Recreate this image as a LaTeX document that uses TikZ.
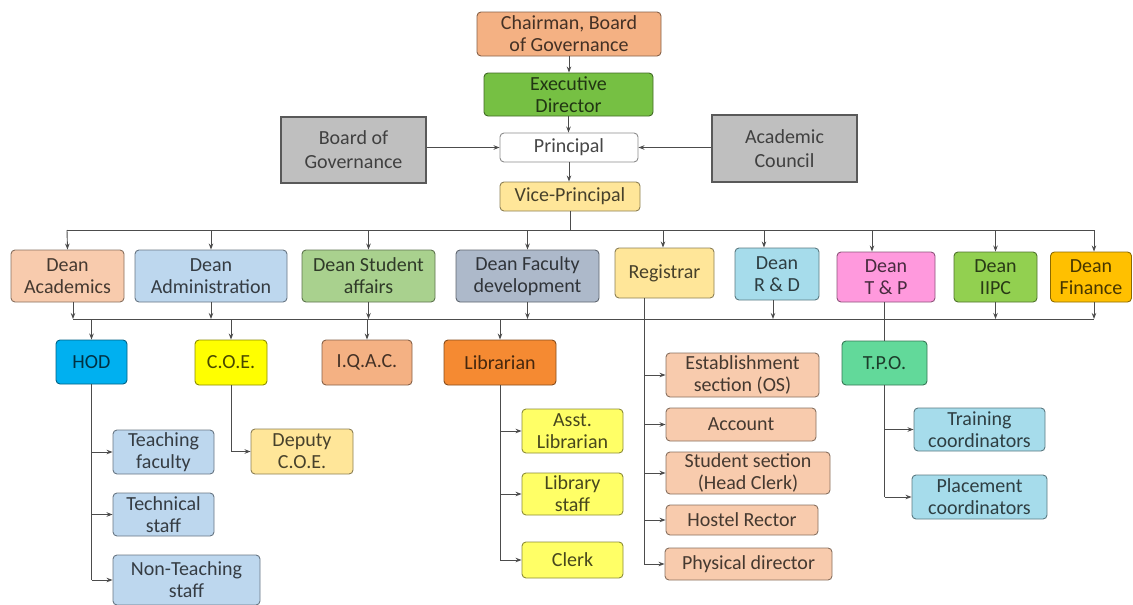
\documentclass[tikz,border=0pt]{standalone}
\usepackage{fontspec}
\setmainfont{Carlito}
\usetikzlibrary{arrows.meta}
\definecolor{cChair}{HTML}{F4B183}
\definecolor{cExec}{HTML}{76C043}
\definecolor{cVP}{HTML}{FFE699}
\definecolor{cGray}{HTML}{BFBFBF}
\definecolor{cAcad}{HTML}{F8CBAD}
\definecolor{cAdm}{HTML}{BDD7EE}
\definecolor{cStu}{HTML}{A9D18E}
\definecolor{cFac}{HTML}{ADB9CA}
\definecolor{cReg}{HTML}{FFE699}
\definecolor{cRD}{HTML}{A6DCEB}
\definecolor{cTP}{HTML}{FF99DD}
\definecolor{cIIPC}{HTML}{92D050}
\definecolor{cFin}{HTML}{FFC000}
\definecolor{cHOD}{HTML}{00B0F0}
\definecolor{cCOE}{HTML}{FFFF00}
\definecolor{cIQAC}{HTML}{F4B183}
\definecolor{cLib}{HTML}{F58A32}
\definecolor{cLibc}{HTML}{FFFF66}
\definecolor{cTPO}{HTML}{62D99A}
\begin{document}
\begin{tikzpicture}[x=1pt,y=-1pt,
  box/.style={draw=#1!55!black, fill=#1, text=#1!28!black, rounded corners=4pt,
    line width=0.9pt, align=center, inner sep=0pt,
    font=\fontsize{20}{22}\selectfont},
  sq/.style={draw=black!65, fill=cGray, line width=1.4pt, align=center, inner sep=0pt,
    text=black!75, font=\fontsize{20}{24}\selectfont},
  conn/.style={draw=black!70, line width=0.9pt},
  arr/.style={conn, -{Stealth[length=6pt,width=4.5pt]}}]
\useasboundingbox (0,0) rectangle (1133,605);
% top
\node[box=cChair, minimum width=184, minimum height=44] (chair) at (569,34) {Chairman, Board\\of Governance};
\node[box=cExec, minimum width=169, minimum height=43] (exec) at (568.5,94.5) {Executive\\Director};
\node[box=white, minimum width=138, minimum height=29] (prin) at (569,147.5) {Principal};
\node[sq, minimum width=145, minimum height=66] (bog) at (353.5,150) {Board of\\Governance};
\node[sq, minimum width=145, minimum height=67] (ac) at (784.5,148.5) {Academic\\Council};
\node[box=cVP, minimum width=140, minimum height=29] (vp) at (570,196.5) {Vice-Principal};
% deans
\node[box=cAcad, minimum width=113, minimum height=52] (dacad) at (67.5,276) {Dean\\Academics};
\node[box=cAdm, minimum width=152, minimum height=52] (dadm) at (211,276) {Dean\\Administration};
\node[box=cStu, minimum width=133, minimum height=52] (dstu) at (368.5,276) {Dean Student\\affairs};
\node[box=cFac, minimum width=143, minimum height=52] (dfac) at (527.5,276) {Dean Faculty\\development};
\node[box=cReg, minimum width=99, minimum height=50] (reg) at (664.5,273) {Registrar};
\node[box=cRD, minimum width=84, minimum height=52] (drd) at (777,274) {Dean\\R \& D};
\node[box=cTP, minimum width=98, minimum height=50] (dtp) at (886,277) {Dean\\T \& P};
\node[box=cIIPC, minimum width=83, minimum height=50] (diipc) at (995.5,277) {Dean\\IIPC};
\node[box=cFin, minimum width=81, minimum height=50] (dfin) at (1091,277) {Dean\\Finance};
% level 3
\node[box=cHOD, minimum width=71, minimum height=44] (hod) at (91.5,362) {HOD};
\node[box=cCOE, minimum width=72, minimum height=45] (coe) at (231,362.5) {C.O.E.};
\node[box=cIQAC, minimum width=90, minimum height=45] (iqac) at (367,362.5) {I.Q.A.C.};
\node[box=cLib, minimum width=112, minimum height=45] (lib) at (500,362.5) {Librarian};
\node[box=cTPO, minimum width=85, minimum height=44] (tpo) at (884.5,363) {T.P.O.};
% HOD children
\node[box=cAdm, minimum width=101, minimum height=44] (tf) at (163.5,452) {Teaching\\faculty};
\node[box=cAdm, minimum width=101, minimum height=43] (ts) at (163.5,514.5) {Technical\\staff};
\node[box=cAdm, minimum width=147, minimum height=50] (nts) at (186.5,580) {Non-Teaching\\staff};
% COE child
\node[box=cVP, minimum width=102, minimum height=45] (dcoe) at (302,451.5) {Deputy\\C.O.E.};
% Librarian children
\node[box=cLibc, minimum width=101, minimum height=44] (alib) at (572.5,431) {Asst.\\Librarian};
\node[box=cLibc, minimum width=101, minimum height=42] (lstf) at (572.5,494) {Library\\staff};
\node[box=cLibc, minimum width=101, minimum height=36] (clerk) at (572.5,560) {Clerk};
% Registrar children
\node[box=cAcad, minimum width=153, minimum height=44] (est) at (742.5,375) {Establishment\\section (OS)};
\node[box=cAcad, minimum width=150, minimum height=33] (acct) at (741,424.5) {Account};
\node[box=cAcad, minimum width=164, minimum height=42] (ssec) at (748,473) {Student section\\(Head Clerk)};
\node[box=cAcad, minimum width=152, minimum height=30] (hostel) at (742,520) {Hostel Rector};
\node[box=cAcad, minimum width=167, minimum height=32] (phys) at (748.5,564) {Physical director};
% TPO children
\node[box=cRD, minimum width=131, minimum height=43] (trn) at (979.5,429.5) {Training\\coordinators};
\node[box=cRD, minimum width=135, minimum height=44] (plc) at (979.5,497) {Placement\\coordinators};
% top connectors
\draw[arr] (chair.south) -- (chair.south |- exec.north);
\draw[arr] (exec.south) -- (exec.south |- prin.north);
\draw[arr] (prin.south) -- (prin.south |- vp.north);
\draw[arr] (bog.east |- prin.west) -- (prin.west);
\draw[arr] (ac.west |- prin.east) -- (prin.east);
% upper bus
\coordinate (bL) at (67,230);
\coordinate (bR) at (1094,230);
\draw[conn] (vp.south) -- (vp.south |- bL);
\draw[conn] (bL) -- (bR);
\coordinate (regT) at ([xshift=-1.5pt]reg.north);
\coordinate (rdT) at ([xshift=-13pt]drd.north);
\coordinate (tpT) at ([xshift=-14pt]dtp.north);
\coordinate (finT) at ([xshift=3pt]dfin.north);
\draw[arr] (bL) -- (dacad.north);
\draw[arr] (dadm.north |- bL) -- (dadm.north);
\draw[arr] (dstu.north |- bL) -- (dstu.north);
\draw[arr] (dfac.north |- bL) -- (dfac.north);
\draw[arr] (regT |- bL) -- (regT);
\draw[arr] (rdT |- bL) -- (rdT);
\draw[arr] (tpT |- bL) -- (tpT);
\draw[arr] (diipc.north |- bL) -- (diipc.north);
\draw[arr] (bR) -- (finT);
% lower bus
\coordinate (cL) at (73,319);
\coordinate (cR) at (1094,319);
\draw[conn] (cL) -- (cR);
\coordinate (acB) at ([xshift=5.5pt]dacad.south);
\coordinate (rdB) at ([xshift=-4pt]drd.south);
\coordinate (finB) at ([xshift=3pt]dfin.south);
\draw[arr] (acB) -- (cL);
\draw[arr] (dadm.south) -- (dadm.south |- cL);
\draw[arr] (dstu.south) -- (dstu.south |- cL);
\draw[arr] (dfac.south) -- (dfac.south |- cL);
\draw[arr] (rdB) -- (rdB |- cL);
\draw[arr] (diipc.south) -- (diipc.south |- cL);
\draw[arr] (finB) -- (cR);
\draw[arr] (hod.north |- cL) -- (hod.north);
\draw[arr] (coe.north |- cL) -- (coe.north);
\draw[arr] (iqac.north |- cL) -- (iqac.north);
\draw[arr] (lib.north |- cL) -- (lib.north);
% HOD branch
\draw[conn] (hod.south) -- (hod.south |- nts.west);
\draw[arr] (hod.south |- tf.west) -- (tf.west);
\draw[arr] (hod.south |- ts.west) -- (ts.west);
\draw[arr] (hod.south |- nts.west) -- (nts.west);
% COE branch
\draw[arr] (coe.south) |- (dcoe.west);
% Librarian branch
\draw[conn] (lib.south) -- (lib.south |- clerk.west);
\draw[arr] (lib.south |- alib.west) -- (alib.west);
\draw[arr] (lib.south |- lstf.west) -- (lstf.west);
\draw[arr] (lib.south |- clerk.west) -- (clerk.west);
% Registrar branch
\coordinate (regB) at ([xshift=-20.5pt]reg.south);
\draw[conn] (regB) -- (regB |- phys.west);
\draw[arr] (regB |- est.west) -- (est.west);
\draw[arr] (regB |- acct.west) -- (acct.west);
\draw[arr] (regB |- ssec.west) -- (ssec.west);
\draw[arr] (regB |- hostel.west) -- (hostel.west);
\draw[arr] (regB |- phys.west) -- (phys.west);
% T&P branch
\draw[conn] (tpo.north |- dtp.south) -- (tpo.north);
\draw[conn] (tpo.south) -- (tpo.south |- plc.west);
\draw[arr] (tpo.south |- trn.west) -- (trn.west);
\draw[arr] (tpo.south |- plc.west) -- (plc.west);
\end{tikzpicture}
\end{document}
